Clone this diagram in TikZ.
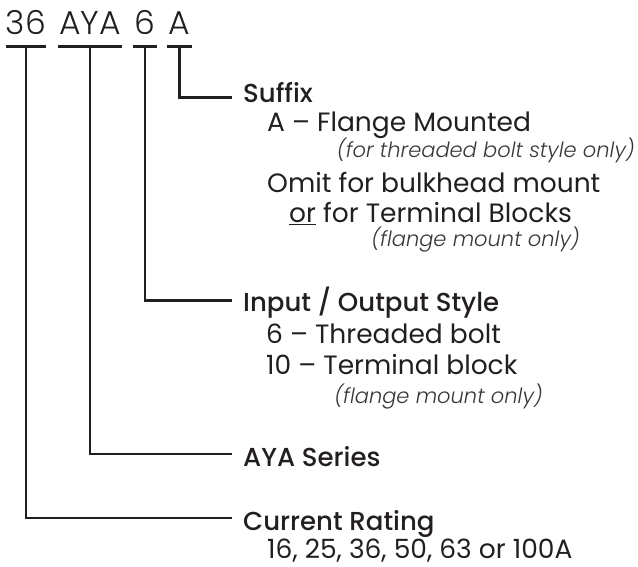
\documentclass[tikz,border=0pt]{standalone}
\usepackage{fontspec}
\setmainfont{Poppins}[BoldFont={Poppins Medium},ItalicFont={Poppins Light Italic}]
\newfontfamily\codefont{Poppins Light}
\usepackage{tikz}
\usetikzlibrary{positioning}
\definecolor{ink}{HTML}{231F20}
\definecolor{note}{HTML}{3A3637}

\tikzset{
  code/.style={anchor=base,inner sep=0pt,font=\codefont\fontsize{33}{36}\selectfont,text=ink},
  bar/.style={line width=3.2pt,draw=ink},
  leg/.style={line width=2.5pt,draw=ink},
  heading/.style={anchor=base west,inner sep=0pt,font=\bfseries\fontsize{26}{30}\selectfont,text=ink},
  body/.style={anchor=base west,inner sep=0pt,font=\fontsize{26.5}{30}\selectfont,text=ink},
  remark/.style={anchor=base east,inner sep=0pt,font=\itshape\fontsize{21}{24}\selectfont,text=note},
}

\begin{document}
\begin{tikzpicture}[x=1pt,y=-1pt]
    \useasboundingbox (0,0) rectangle (638,567);
    % part number
    \node[code,minimum width=37pt] (c36)  at (26,35)    {36};
    \node[code,minimum width=64pt] (cAYA) at (90,35)    {AYA};
    \node[code,minimum width=23pt] (c6)   at (145,35)   {6};
    \node[code,minimum width=25pt] (cA)   at (179.5,35) {A};
    \foreach \c in {c36,cAYA,c6,cA}
      \draw[bar] ([yshift=-11pt]\c.south west) -- ([yshift=-11pt]\c.south east);
    % suffix
    \node[heading] (suffix) at (243,102.5) {Suffix};
    \node[body]    (flange) at (267,131.5) {A – Flange Mounted};
    \node[remark]  (boltonly) at (635,158) {(for threaded bolt style only)};
    \node[body]    (omit)   at (267,192.3) {Omit for bulkhead mount};
    \node[body]    (blocks) at (289,223)   {\underline{or} for Terminal Blocks};
    \node[remark]  (flangeonly) at (580,247) {(flange mount only)};
    % input / output
    \node[heading] (io)     at (243,311.7) {Input / Output Style};
    \node[body]    (bolt)   at (266,343)   {6 – Threaded bolt};
    \node[body]    (block)  at (266,374)   {10 – Terminal block};
    \node[remark]  (blockonly) at (543,403) {(flange mount only)};
    % series and rating
    \node[heading] (series) at (243,466.7) {AYA Series};
    \node[heading] (rating) at (243,530)   {Current Rating};
    \node[body]    (values) at (267,558.5) {16, 25, 36, 50, 63 or 100A};
    % legs
    \draw[leg] ([yshift=-11pt]cA.south)   |- ([xshift=-11pt,yshift=4.8pt]suffix.base west);
    \draw[leg] ([yshift=-11pt]c6.south)   |- ([xshift=-11pt,yshift=11pt]io.base west);
    \draw[leg] ([yshift=-11pt]cAYA.south) |- ([xshift=-11pt,yshift=12.5pt]series.base west);
    \draw[leg] ([yshift=-11pt]c36.south)  |- ([xshift=-11pt,yshift=12pt]rating.base west);
\end{tikzpicture}
\end{document}
